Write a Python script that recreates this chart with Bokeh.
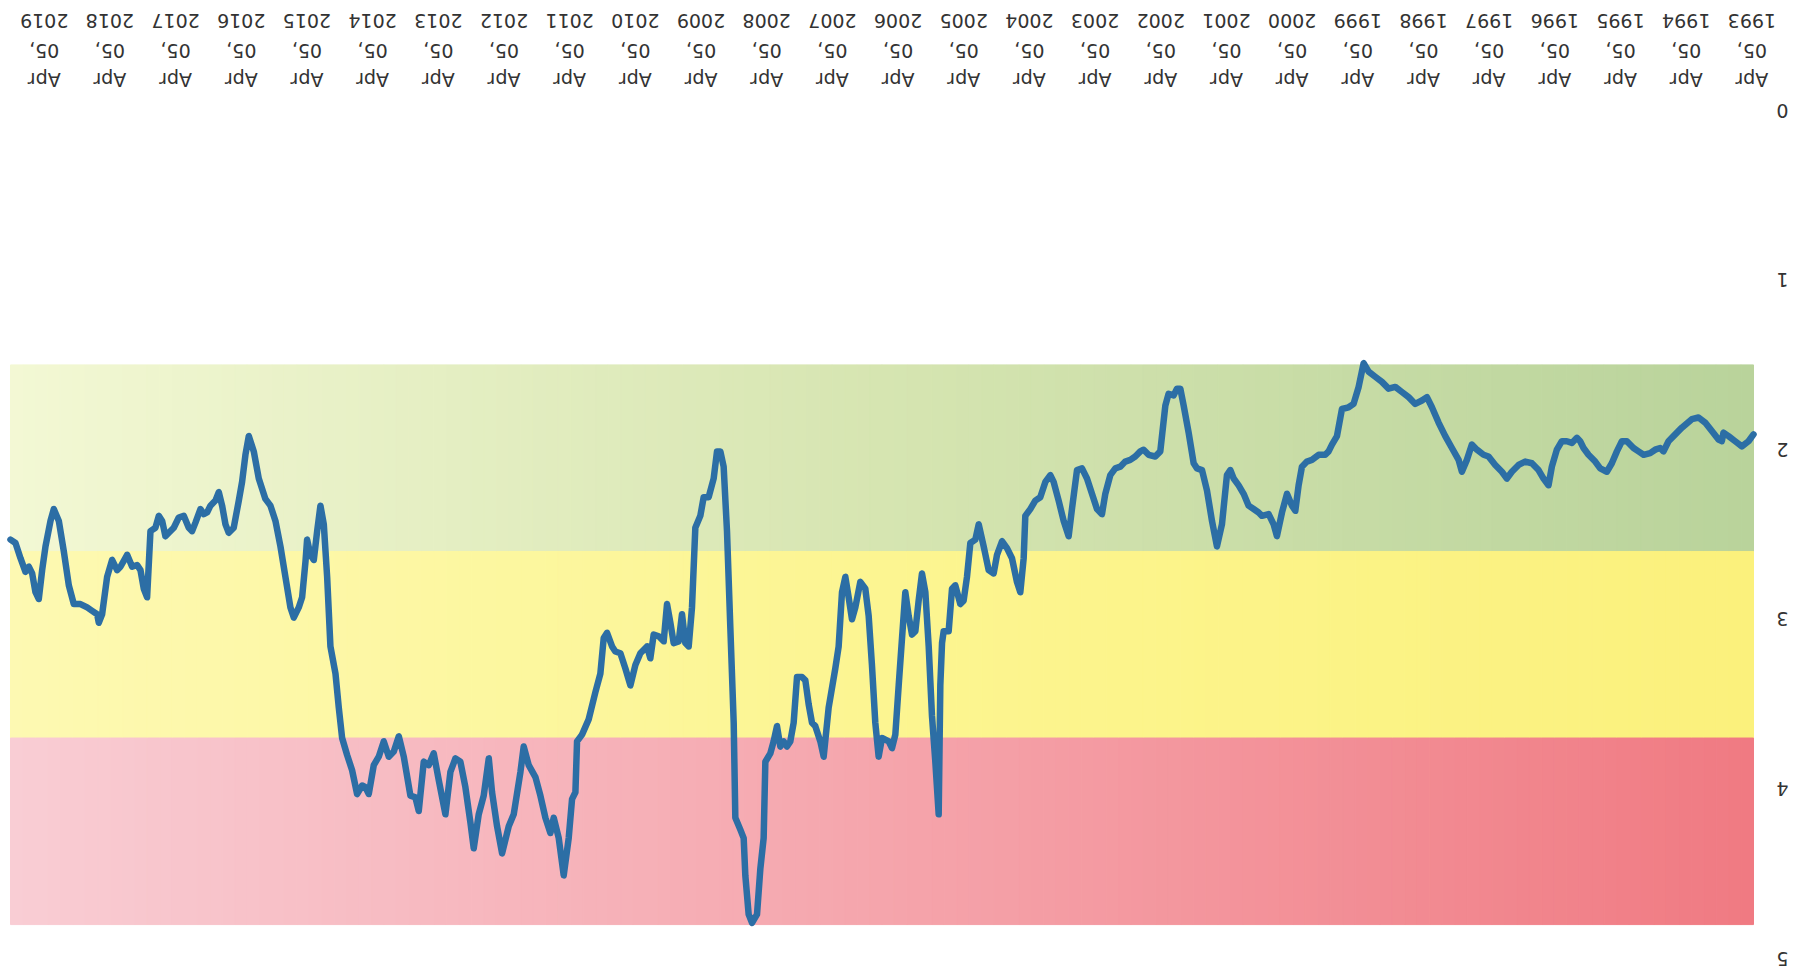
import math
import numpy as np
from bokeh.plotting import figure
from bokeh.models import Range1d, ColumnDataSource
from bokeh.core.properties import value
from bokeh.embed import file_html
from bokeh.resources import INLINE

# ---- data (decimal year, index value) ----
year_frac = [
    1993.233, 1993.309, 1993.410, 1993.512, 1993.613, 1993.690, 1993.715, 1993.766, 1993.867, 1993.969,
    1994.070, 1994.172, 1994.324, 1994.451, 1994.527, 1994.603, 1994.654, 1994.730, 1994.806, 1994.907,
    1994.984, 1995.060, 1995.161, 1995.237, 1995.313, 1995.390, 1995.466, 1995.567, 1995.643, 1995.745,
    1995.821, 1995.872, 1995.922, 1995.998, 1996.075, 1996.151, 1996.227, 1996.303, 1996.354, 1996.430,
    1996.506, 1996.607, 1996.709, 1996.810, 1996.912, 1996.988, 1997.064, 1997.165, 1997.267, 1997.343,
    1997.444, 1997.521, 1997.597, 1997.673, 1997.723, 1997.825, 1997.926, 1998.028, 1998.129, 1998.205,
    1998.281, 1998.383, 1998.484, 1998.586, 1998.687, 1998.789, 1998.890, 1998.992, 1999.093, 1999.169,
    1999.245, 1999.322, 1999.398, 1999.499, 1999.575, 1999.651, 1999.702, 1999.753, 1999.854, 1999.956,
    2000.032, 2000.108, 2000.159, 2000.209, 2000.260, 2000.336, 2000.412, 2000.489, 2000.539, 2000.615,
    2000.717, 2000.768, 2000.844, 2000.920, 2000.996, 2001.072, 2001.148, 2001.199, 2001.250, 2001.326,
    2001.402, 2001.478, 2001.554, 2001.630, 2001.706, 2001.757, 2001.833, 2001.909, 2001.960, 2002.011,
    2002.061, 2002.138, 2002.188, 2002.265, 2002.341, 2002.443, 2002.519, 2002.569, 2002.646, 2002.722,
    2002.798, 2002.874, 2002.950, 2003.026, 2003.102, 2003.153, 2003.229, 2003.305, 2003.381, 2003.457,
    2003.533, 2003.610, 2003.660, 2003.736, 2003.813, 2003.889, 2003.939, 2004.015, 2004.092, 2004.168,
    2004.244, 2004.320, 2004.345, 2004.396, 2004.447, 2004.523, 2004.599, 2004.675, 2004.751, 2004.802,
    2004.878, 2004.954, 2005.030, 2005.081, 2005.157, 2005.208, 2005.259, 2005.309, 2005.386, 2005.436,
    2005.487, 2005.563, 2005.588, 2005.614, 2005.639, 2005.690, 2005.741, 2005.791, 2005.842, 2005.893,
    2005.944, 2005.994, 2006.045, 2006.096, 2006.147, 2006.197, 2006.248, 2006.299, 2006.350, 2006.400,
    2006.502, 2006.553, 2006.604, 2006.655, 2006.705, 2006.756, 2006.832, 2006.908, 2006.959, 2007.010,
    2007.060, 2007.111, 2007.162, 2007.213, 2007.314, 2007.390, 2007.441, 2007.517, 2007.568, 2007.619,
    2007.669, 2007.720, 2007.796, 2007.847, 2007.898, 2007.949, 2007.999, 2008.050, 2008.101, 2008.152,
    2008.202, 2008.278, 2008.304, 2008.354, 2008.405, 2008.481, 2008.532, 2008.583, 2008.608, 2008.659,
    2008.735, 2008.760, 2008.811, 2008.862, 2008.913, 2008.963, 2009.014, 2009.065, 2009.141, 2009.217,
    2009.268, 2009.344, 2009.395, 2009.445, 2009.496, 2009.547, 2009.597, 2009.674, 2009.724, 2009.775,
    2009.826, 2009.902, 2009.978, 2010.029, 2010.080, 2010.181, 2010.257, 2010.333, 2010.409, 2010.485,
    2010.562, 2010.612, 2010.688, 2010.739, 2010.790, 2010.866, 2010.968, 2011.069, 2011.145, 2011.170,
    2011.221, 2011.272, 2011.348, 2011.424, 2011.500, 2011.551, 2011.627, 2011.703, 2011.779, 2011.881,
    2011.957, 2012.007, 2012.109, 2012.185, 2012.286, 2012.363, 2012.439, 2012.489, 2012.566, 2012.642,
    2012.718, 2012.768, 2012.845, 2012.921, 2012.997, 2013.073, 2013.149, 2013.250, 2013.327, 2013.403,
    2013.479, 2013.555, 2013.606, 2013.682, 2013.783, 2013.859, 2013.935, 2014.011, 2014.088, 2014.164,
    2014.240, 2014.316, 2014.367, 2014.417, 2014.494, 2014.570, 2014.646, 2014.722, 2014.773, 2014.823,
    2014.900, 2014.950, 2015.001, 2015.052, 2015.102, 2015.153, 2015.204, 2015.255, 2015.280, 2015.331,
    2015.382, 2015.458, 2015.509, 2015.585, 2015.661, 2015.737, 2015.813, 2015.890, 2015.991, 2016.067,
    2016.143, 2016.194, 2016.245, 2016.295, 2016.372, 2016.448, 2016.498, 2016.549, 2016.600, 2016.651,
    2016.727, 2016.778, 2016.828, 2016.879, 2016.955, 2017.006, 2017.057, 2017.133, 2017.209, 2017.285,
    2017.361, 2017.412, 2017.462, 2017.513, 2017.564, 2017.640, 2017.691, 2017.742, 2017.792, 2017.843,
    2017.919, 2017.995, 2018.097, 2018.148, 2018.224, 2018.300, 2018.376, 2018.427, 2018.452, 2018.528,
    2018.604, 2018.706, 2018.807, 2018.883, 2018.959, 2019.035, 2019.112, 2019.162, 2019.238, 2019.289,
    2019.340, 2019.391, 2019.441, 2019.492, 2019.543, 2019.619, 2019.695, 2019.771,
]
index_value = [
    1.91, 1.95, 1.98, 1.95, 1.92, 1.90, 1.95, 1.94, 1.89, 1.84,
    1.81, 1.82, 1.87, 1.92, 1.95, 2.01, 1.99, 2.00, 2.02, 2.03,
    2.01, 1.99, 1.95, 1.95, 2.01, 2.08, 2.13, 2.11, 2.07, 2.03,
    1.99, 1.95, 1.93, 1.96, 1.95, 1.95, 2.00, 2.10, 2.21, 2.17,
    2.12, 2.08, 2.07, 2.09, 2.13, 2.17, 2.13, 2.09, 2.04, 2.03,
    2.00, 1.97, 2.06, 2.13, 2.06, 1.99, 1.92, 1.84, 1.75, 1.69,
    1.71, 1.73, 1.69, 1.66, 1.63, 1.64, 1.60, 1.57, 1.54, 1.49,
    1.63, 1.73, 1.75, 1.76, 1.92, 1.97, 2.01, 2.03, 2.03, 2.06,
    2.07, 2.10, 2.21, 2.36, 2.33, 2.26, 2.37, 2.51, 2.44, 2.38,
    2.39, 2.37, 2.35, 2.33, 2.26, 2.21, 2.17, 2.12, 2.15, 2.44,
    2.57, 2.42, 2.24, 2.12, 2.11, 2.08, 1.90, 1.74, 1.64, 1.64,
    1.68, 1.67, 1.74, 2.01, 2.04, 2.03, 2.00, 2.01, 2.04, 2.06,
    2.07, 2.10, 2.11, 2.15, 2.26, 2.38, 2.35, 2.26, 2.17, 2.11,
    2.12, 2.35, 2.51, 2.42, 2.30, 2.19, 2.15, 2.19, 2.28, 2.30,
    2.35, 2.39, 2.64, 2.84, 2.78, 2.64, 2.58, 2.54, 2.62, 2.73,
    2.71, 2.57, 2.44, 2.53, 2.55, 2.75, 2.89, 2.91, 2.80, 2.82,
    3.07, 3.07, 3.14, 3.39, 4.15, 3.84, 3.57, 3.16, 2.84, 2.73,
    2.89, 3.07, 3.09, 2.98, 2.84, 3.11, 3.39, 3.68, 3.76, 3.72,
    3.70, 3.81, 3.61, 3.27, 2.98, 2.82, 2.78, 2.93, 3.00, 2.87,
    2.75, 2.84, 3.16, 3.29, 3.52, 3.81, 3.72, 3.63, 3.61, 3.50,
    3.36, 3.34, 3.34, 3.61, 3.72, 3.75, 3.72, 3.75, 3.63, 3.72,
    3.79, 3.84, 4.29, 4.47, 4.74, 4.79, 4.74, 4.51, 4.29, 4.24,
    4.17, 3.61, 3.05, 2.48, 2.10, 2.01, 2.01, 2.17, 2.28, 2.28,
    2.39, 2.46, 2.93, 3.16, 3.14, 2.97, 3.13, 3.14, 3.02, 2.91,
    3.13, 3.10, 3.09, 3.23, 3.16, 3.20, 3.27, 3.39, 3.29, 3.20,
    3.19, 3.16, 3.08, 3.11, 3.32, 3.43, 3.59, 3.68, 3.72, 4.02,
    4.06, 4.29, 4.51, 4.29, 4.17, 4.26, 4.17, 4.04, 3.93, 3.86,
    3.75, 3.90, 4.15, 4.22, 4.38, 4.22, 4.02, 3.82, 4.04, 4.15,
    4.35, 4.20, 3.99, 3.84, 3.82, 3.90, 4.15, 3.95, 3.79, 3.86,
    3.84, 4.13, 4.05, 4.04, 3.81, 3.69, 3.78, 3.81, 3.72, 3.81,
    3.86, 4.03, 3.99, 3.98, 4.03, 3.89, 3.80, 3.70, 3.52, 3.32,
    3.16, 2.75, 2.44, 2.33, 2.48, 2.65, 2.62, 2.53, 2.66, 2.87,
    2.93, 2.99, 2.93, 2.75, 2.57, 2.42, 2.33, 2.29, 2.17, 2.01,
    1.92, 2.03, 2.19, 2.30, 2.46, 2.49, 2.44, 2.33, 2.25, 2.30,
    2.33, 2.37, 2.38, 2.35, 2.43, 2.48, 2.46, 2.39, 2.40, 2.46,
    2.49, 2.51, 2.42, 2.39, 2.46, 2.48, 2.87, 2.82, 2.71, 2.68,
    2.69, 2.62, 2.69, 2.71, 2.65, 2.75, 2.97, 3.02, 2.97, 2.95,
    2.93, 2.91, 2.91, 2.80, 2.60, 2.42, 2.35, 2.42, 2.57, 2.71,
    2.88, 2.84, 2.73, 2.69, 2.72, 2.64, 2.55, 2.53,
]

tick_years = list(range(1993, 2020))
tick_labels = [f"Apr\n05,\n{y}" for y in tick_years]
tick_positions = [y + 94 / 365 for y in tick_years]   # 5 April of each year
value_ticks = [0, 1, 2, 3, 4, 5]
value_labels = [str(v) for v in value_ticks]

# zone boundaries on the index scale (top of green ... bottom of red)
zone_edges = [1.5, 2.6, 3.7, 4.8]
zone_colors = [  # colour at the 2019 side, middle, and 1993 side
    ["#f3f8d4", "#d6e5b1", "#b9d39b"],
    ["#fdf9b2", "#fcf591", "#fbf17c"],
    ["#f9cdd4", "#f5a5ac", "#f07a82"],
]

x_min, x_max = min(year_frac), max(year_frac)

# ---- layout (page pixels); the page is shown turned upside down ----
FIG_X0, FIG_Y0, FIG_W, FIG_H = 0, 0, 1790, 972
BAND_LEFT, BAND_RIGHT = 10, 1753          # pixel span of the data period
ZERO_Y, FIVE_Y = 110, 958                 # pixel rows of the 0 and 5 ticks
DATE_LABEL_Y, VALUE_LABEL_X = 50, 1782    # centres of the tick label blocks

px_per_year = (BAND_RIGHT - BAND_LEFT) / (x_max - x_min)
px_per_unit = (FIVE_Y - ZERO_Y) / (value_ticks[-1] - value_ticks[0])

x_start = x_max + (BAND_LEFT - FIG_X0) / px_per_year
x_end = x_max - (FIG_X0 + FIG_W - BAND_LEFT) / px_per_year
y_bottom = value_ticks[0] + (FIG_Y0 + FIG_H - ZERO_Y) / px_per_unit
y_top = value_ticks[0] - (ZERO_Y - FIG_Y0) / px_per_unit

p = figure(width=FIG_W, height=FIG_H, output_backend="svg", toolbar_location=None,
           x_range=Range1d(x_start, x_end), y_range=Range1d(y_bottom, y_top),
           min_border=0)
p.xaxis.visible = False
p.yaxis.visible = False
p.outline_line_color = None
p.grid.visible = False
p.background_fill_color = "white"
p.border_fill_color = "white"


def hex2rgb(h):
    return np.array([int(h[i:i + 2], 16) for i in (1, 3, 5)], dtype=float)


def interp(stops, f):
    a = [hex2rgb(c) for c in stops]
    if f <= 0.5:
        c = a[0] + (a[1] - a[0]) * (f / 0.5)
    else:
        c = a[1] + (a[2] - a[1]) * ((f - 0.5) / 0.5)
    return "#%02x%02x%02x" % tuple(int(round(v)) for v in c)


n_strips = 140
edges = np.linspace(x_max, x_min, n_strips + 1)
for zi, stops in enumerate(zone_colors):
    lefts, rights, cols = [], [], []
    for i in range(n_strips):
        f = (i + 0.5) / n_strips
        lefts.append(edges[i])
        rights.append(edges[i + 1])
        cols.append(interp(stops, f))
    p.quad(left=lefts, right=rights, top=[zone_edges[zi]] * n_strips,
           bottom=[zone_edges[zi + 1]] * n_strips,
           fill_color=cols, line_color=cols, line_width=1)

p.line(year_frac, index_value, line_color="#2c6ea5", line_width=6.5, line_join="round", line_cap="round")

label_style = dict(angle=math.pi, text_align="center", text_baseline="middle",
                   text_font=value("DejaVu Sans"), text_font_size=value("19px"),
                   text_color="#333333")

# date tick labels (above the plot area)
date_src = ColumnDataSource(dict(
    x=tick_positions,
    y=[value_ticks[0] - (ZERO_Y - DATE_LABEL_Y) / px_per_unit] * len(tick_positions),
    text=tick_labels))
p.text(x="x", y="y", text="text", source=date_src, text_line_height=1.34, **label_style)

# value tick labels (right of the plot area)
val_src = ColumnDataSource(dict(
    x=[x_min - (VALUE_LABEL_X - BAND_RIGHT) / px_per_year] * len(value_ticks),
    y=value_ticks,
    text=value_labels))
p.text(x="x", y="y", text="text", source=val_src, **label_style)

open("out.html", "w").write(file_html(p, INLINE))
